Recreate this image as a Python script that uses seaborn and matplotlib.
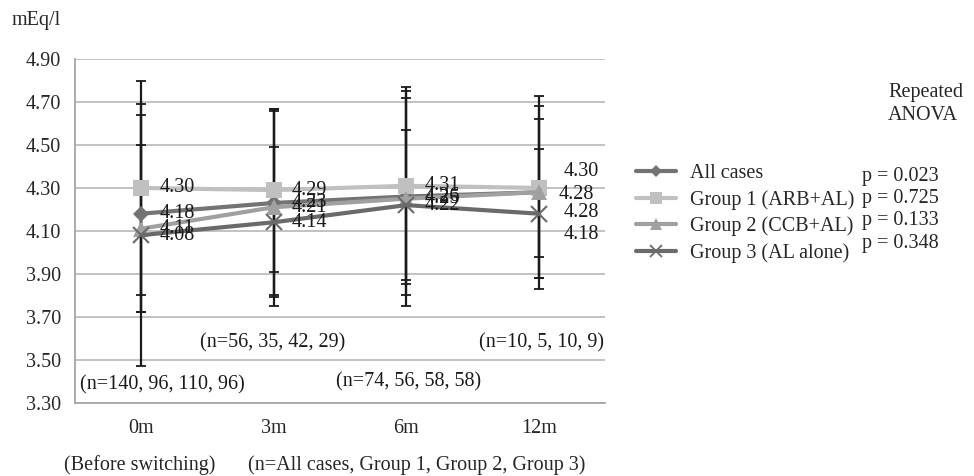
import matplotlib
matplotlib.use('Agg')

import numpy as np
import pandas as pd
import matplotlib.pyplot as plt
import seaborn as sns
from matplotlib.lines import Line2D

# -----------------------------
# DATA
# -----------------------------
months = ["0m", "3m", "6m", "12m"]
groups = ["All cases", "Group 1 (ARB+AL)", "Group 2 (CCB+AL)", "Group 3 (AL alone)"]

all_cases = [4.18, 4.23, 4.26, 4.28]
group1 = [4.30, 4.29, 4.31, 4.30]
group2 = [4.11, 4.21, 4.25, 4.28]
group3 = [4.08, 4.14, 4.22, 4.18]

sd_all = [0.46, 0.43, 0.46, 0.45]
sd_g1 = [0.50, 0.38, 0.46, 0.32]
sd_g2 = [0.39, 0.46, 0.50, 0.40]
sd_g3 = [0.61, 0.35, 0.35, 0.30]

n_labels = ["(n=140, 96, 110, 96)", "(n=56, 35, 42, 29)",
            "(n=74, 56, 58, 58)", "(n=10, 5, 10, 9)"]
p_values = ["0.023", "0.725", "0.133", "0.348"]

means = [all_cases, group1, group2, group3]
sds = [sd_all, sd_g1, sd_g2, sd_g3]

df = pd.DataFrame({
    "month": np.tile(np.arange(len(months)), len(groups)),
    "group": np.repeat(groups, len(months)),
    "value": np.concatenate(means),
    "sd": np.concatenate(sds),
})

# -----------------------------
# STYLE
# -----------------------------
sns.set_style("white")
plt.rcParams['font.family'] = ['Liberation Serif', 'DejaVu Serif']
FS = 14.5

colors = {groups[0]: "#737373", groups[1]: "#c0c0c0",
          groups[2]: "#a0a0a0", groups[3]: "#6a6a6a"}
markers = {groups[0]: "D", groups[1]: "s", groups[2]: "^", groups[3]: "x"}
msizes = {groups[0]: 8, groups[1]: 11, groups[2]: 11, groups[3]: 11}

W, H = 974, 476
fig = plt.figure(figsize=(W / 100, H / 100), dpi=100)
ax = fig.add_axes([75 / W, 1 - 402.5 / H, 530 / W, 343.3 / H])

# error bars (behind the lines)
for g in groups:
    sub = df[df["group"] == g]
    ax.errorbar(sub["month"], sub["value"], yerr=sub["sd"], fmt="none",
                ecolor="#1a1a1a", elinewidth=1.6, capsize=3.5, capthick=1.3, zorder=2)

# lines with seaborn
for g in groups:
    sub = df[df["group"] == g]
    sns.lineplot(data=sub, x="month", y="value", color=colors[g], marker=markers[g],
                 markersize=msizes[g], markeredgewidth=1.5 if g == groups[3] else 0,
                 markeredgecolor=colors[g], linewidth=3, ax=ax, zorder=3, legend=False)

# data labels
off_12m = {groups[0]: (20, -2), groups[1]: (25, 16), groups[2]: (25, -20), groups[3]: (25, -21)}
for g, vals in zip(groups, means):
    for i, v in enumerate(vals):
        off = off_12m[g] if i == 3 else (18, 0)
        ax.annotate(f"{v:.2f}", (i, v), xytext=off, textcoords="offset pixels",
                    ha="left", va="center", fontsize=FS, color="#1a1a1a", zorder=5)

# sample size notes
n_pos = [(0.16, 3.38), (0.99, 3.577), (2.02, 3.397), (3.02, 3.577)]
for (x, y), t in zip(n_pos, n_labels):
    ax.text(x, y, t, ha="center", va="center", fontsize=FS, color="#1a1a1a")

# axes formatting
ax.set_xlim(-0.5, 3.5)
ax.set_ylim(3.30, 4.90)
ax.set_yticks(np.arange(3.30, 4.91, 0.20))
ax.set_yticklabels([f"{t:.2f}" for t in np.arange(3.30, 4.91, 0.20)], fontsize=FS)
ax.set_xticks(range(len(months)))
ax.set_xticklabels(months, fontsize=FS)
ax.set_xticks(np.arange(-0.5, 3.6, 1), minor=True)
ax.tick_params(axis="x", which="major", length=0, pad=12)
ax.tick_params(axis="x", which="minor", length=6, color="#a6a6a6", width=1.3)
ax.tick_params(axis="y", length=6, color="#a6a6a6", width=1.3, pad=4)
ax.set_xlabel("")
ax.set_ylabel("")
ax.yaxis.grid(True, color="#bdbdbd", linewidth=1.3)
ax.set_axisbelow(True)
for s in ["top", "right"]:
    ax.spines[s].set_visible(False)
for s in ["left", "bottom"]:
    ax.spines[s].set_color("#a6a6a6")
    ax.spines[s].set_linewidth(1.3)

# legend
handles = [Line2D([0], [0], color=colors[g], lw=3, marker=markers[g],
                  markersize=msizes[g] * 0.75, markeredgewidth=1.3 if g == groups[3] else 0,
                  markeredgecolor=colors[g]) for g in groups]
fig.legend(handles, groups, loc="upper left", bbox_to_anchor=(636 / W, 1 - 164 / H),
           frameon=False, fontsize=FS, handlelength=2.0, handletextpad=0.7,
           labelspacing=0.34, borderaxespad=0, borderpad=0)

# surrounding text
fig.text(12 / W, 1 - 21 / H, "mEq/l", fontsize=FS, va="center", ha="left")
fig.text(140 / W, 1 - 465 / H, "(Before switching)", fontsize=FS, va="center", ha="center")
fig.text(248 / W, 1 - 465 / H, "(n=All cases, Group 1, Group 2, Group 3)",
         fontsize=FS, va="center", ha="left")
fig.text(888 / W, 1 - 92 / H, "Repeated", fontsize=FS, va="center", ha="left")
fig.text(888 / W, 1 - 116 / H, "ANOVA", fontsize=FS, va="center", ha="left")
for i, p in enumerate(p_values):
    fig.text(862 / W, 1 - (176 + 22.5 * i) / H, f"p = {p}", fontsize=FS,
             va="center", ha="left")

plt.savefig("out.png", dpi=100)
plt.close()
